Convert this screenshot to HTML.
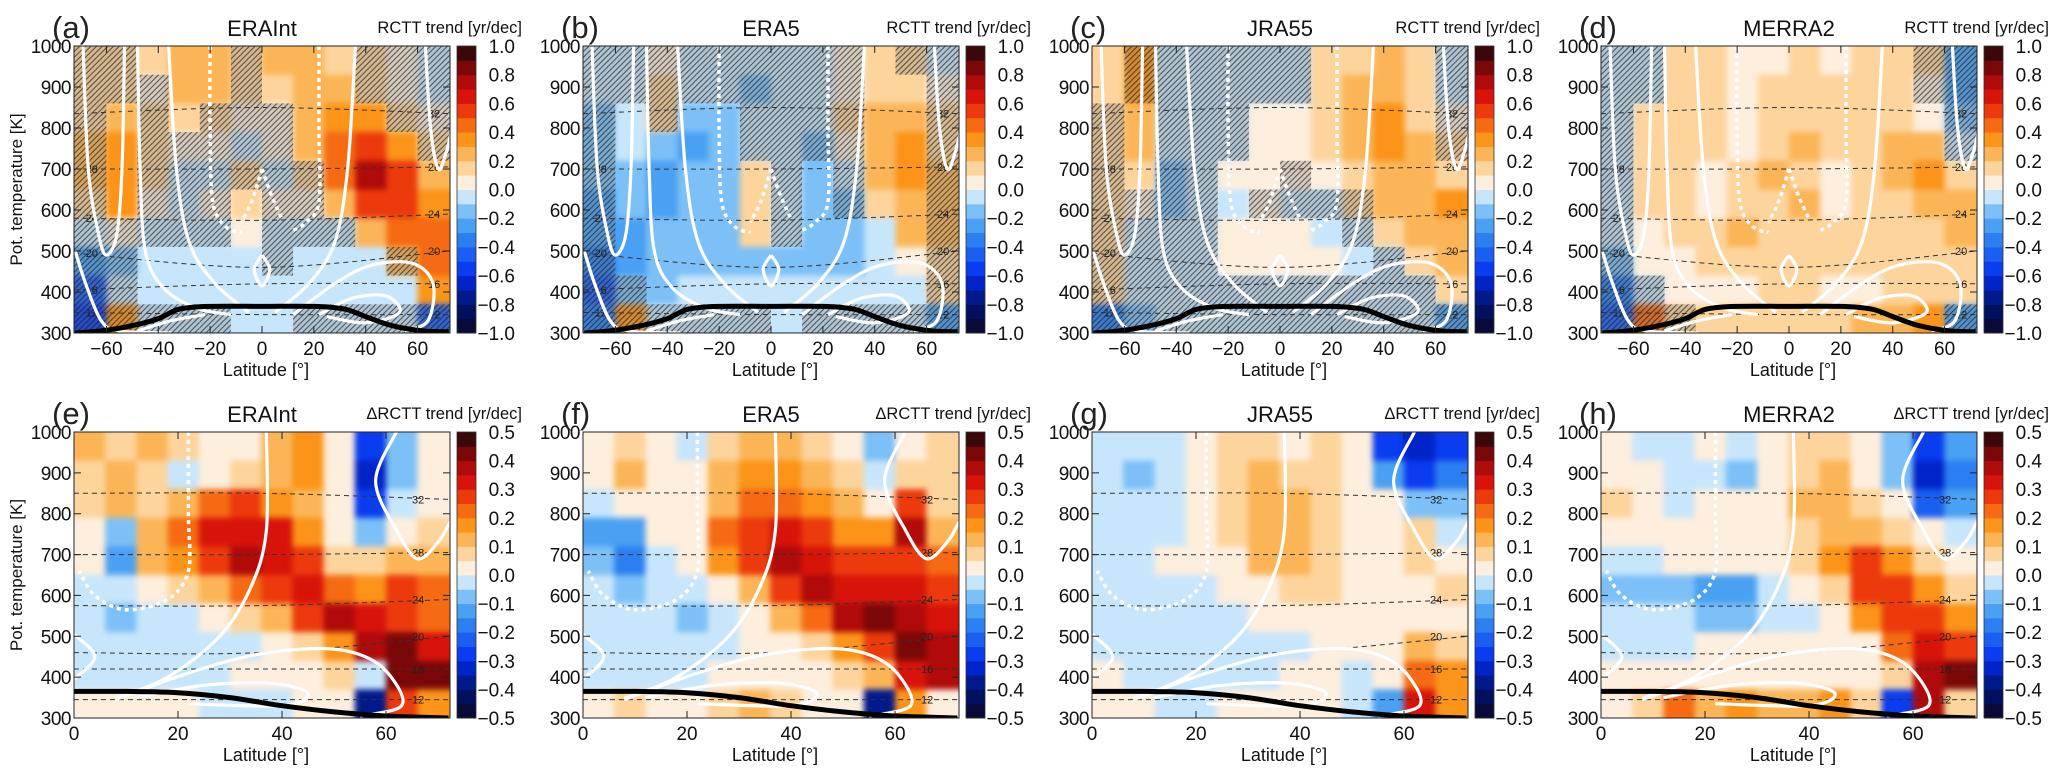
<!DOCTYPE html>
<html><head><meta charset="utf-8"><title>RCTT trends</title>
<style>
html,body{margin:0;padding:0;background:#fff;}
svg{display:block;font-family:"Liberation Sans",sans-serif;}
.soft{filter:blur(3px);}
</style></head>
<body>
<svg id="fig" width="2067" height="777" viewBox="0 0 2067 777" xmlns="http://www.w3.org/2000/svg">
<defs>
<pattern id="hatch" patternUnits="userSpaceOnUse" width="4" height="4" patternTransform="rotate(-45)">
<rect width="4" height="4" fill="rgba(110,110,110,0.28)"/>
<line x1="0" y1="1" x2="4" y2="1" stroke="#1a1a1a" stroke-width="1.1" stroke-opacity="0.65"/>
</pattern>
</defs>
</svg>
<script>
// ---------- data ----------
const panelLabels = ["(a)","(b)","(c)","(d)","(e)","(f)","(g)","(h)"];
const panelTitles = ["ERAInt","ERA5","JRA55","MERRA2","ERAInt","ERA5","JRA55","MERRA2"];
const latCentersTop = [-66,-54,-42,-30,-18,-6,6,18,30,42,54,66];
const latCentersBot = [3,9,15,21,27,33,39,45,51,57,63,69];
const thetaCenters = [965,895,825,755,685,615,545,475,405,335];   // rows top -> bottom
const yTicks = [300,400,500,600,700,800,900,1000];
const xTicksTop = [-60,-40,-20,0,20,40,60];
const xTicksBot = [0,20,40,60];
const cbTicksTop = ["1.0","0.8","0.6","0.4","0.2","0.0","\u22120.2","\u22120.4","\u22120.6","\u22120.8","\u22121.0"];
const cbTicksBot = ["0.5","0.4","0.3","0.2","0.1","0.0","\u22120.1","\u22120.2","\u22120.3","\u22120.4","\u22120.5"];
const cmapColors = ["#0a0a3a","#00105e","#001a8c","#0024c8","#0a3cf0","#1a5ef2","#2b7ff0","#4aa0f2","#7cc0f7","#c8e6fb",
 "#fdeedd","#fdd49c","#fbb557","#fb9418","#f56a12","#ec3a0c","#d8140a","#b00a0a","#7a0808","#3a0808"];

const trendA = [
[0.15,0.15,0.1,0.2,0.2,0.1,0.2,0.2,0.15,0.1,0.0,-0.1],
[0.15,0.1,0.05,0.2,0.2,0.1,0.15,0.2,0.2,0.1,0.05,-0.1],
[0.15,0.25,0.1,0.15,0.1,0.05,0.05,0.2,0.35,0.3,0.15,0.05],
[0.2,0.3,0.15,0.05,0.05,-0.05,0.05,0.25,0.45,0.55,0.3,0.15],
[0.2,0.35,0.1,-0.05,-0.05,0.1,-0.05,0.15,0.4,0.7,0.5,0.25],
[0.15,0.3,0.05,-0.1,0.02,0.15,0.05,0.05,0.2,0.5,0.55,0.3],
[-0.05,0.05,-0.05,-0.1,-0.05,0.05,-0.05,-0.05,-0.05,0.2,0.45,0.4],
[-0.3,-0.15,-0.05,-0.05,-0.05,-0.05,-0.05,-0.05,-0.05,-0.05,0.2,0.4],
[-0.5,-0.1,-0.05,-0.05,-0.05,-0.05,-0.05,-0.05,-0.05,-0.05,-0.05,0.3],
[-0.6,0.3,-0.05,-0.05,-0.05,-0.05,-0.05,-0.05,-0.05,-0.05,-0.1,-0.5]];
const trendB = [
[-0.1,-0.1,0.05,-0.05,-0.05,-0.05,-0.05,-0.05,0.05,0.15,0.1,-0.05],
[-0.1,-0.05,0.1,-0.05,-0.05,-0.15,-0.05,-0.05,0.05,0.15,0.15,0.05],
[-0.15,-0.05,0.1,-0.2,-0.2,-0.05,-0.05,-0.1,0.1,0.25,0.2,0.15],
[-0.2,-0.1,-0.2,-0.25,-0.2,-0.05,-0.05,-0.15,0.05,0.25,0.3,0.15],
[-0.2,-0.15,-0.25,-0.2,-0.15,0.15,-0.05,-0.2,-0.05,0.25,0.35,0.2],
[-0.25,-0.2,-0.25,-0.2,-0.15,0.15,-0.1,-0.2,-0.15,0.15,0.25,0.2],
[-0.3,-0.3,-0.2,-0.15,-0.15,0.1,-0.1,-0.15,-0.2,-0.05,0.2,0.2],
[-0.35,-0.3,-0.15,-0.15,-0.15,-0.15,-0.15,-0.15,-0.15,-0.1,0.05,0.15],
[-0.5,-0.2,-0.15,-0.05,-0.05,-0.05,-0.05,-0.05,-0.05,-0.1,-0.05,0.1],
[-0.4,0.3,-0.05,-0.1,-0.05,-0.05,-0.05,-0.05,-0.05,-0.1,-0.1,-0.3]];
const trendC = [
[0.15,0.3,-0.05,-0.05,-0.05,-0.05,-0.05,0.15,0.15,0.25,0.15,-0.1],
[0.15,0.3,-0.05,-0.05,-0.05,-0.05,-0.05,0.15,0.2,0.25,0.15,-0.1],
[0.15,0.2,-0.05,-0.05,-0.05,0.05,0.05,0.15,0.2,0.3,0.15,0.05],
[0.15,0.2,-0.05,-0.05,-0.05,0.05,0.05,0.15,0.2,0.3,0.2,0.1],
[0.1,0.15,-0.15,-0.05,0.05,0.05,0.05,0.05,0.15,0.25,0.25,0.15],
[0.1,0.05,-0.2,-0.05,-0.05,0.05,-0.05,-0.05,0.1,0.2,0.25,0.3],
[0.15,-0.05,-0.1,-0.05,0.05,0.05,0.05,-0.05,-0.05,0.1,0.2,0.25],
[0.15,-0.05,-0.1,-0.05,0.05,0.05,0.05,0.05,-0.05,-0.05,0.1,0.2],
[0.1,-0.1,-0.05,-0.05,-0.05,-0.05,-0.05,-0.05,-0.1,-0.1,-0.05,0.1],
[-0.4,-0.15,-0.05,-0.05,-0.05,-0.05,-0.05,-0.05,-0.05,-0.05,-0.05,-0.3]];
const trendD = [
[-0.05,-0.05,0.15,0.15,0.05,0.05,0.1,0.05,0.15,0.15,0.1,-0.3],
[-0.05,-0.05,0.15,0.15,0.05,0.1,0.1,0.1,0.15,0.15,0.05,-0.3],
[-0.05,0.1,0.15,0.15,0.05,0.15,0.15,0.15,0.15,0.15,0.05,-0.2],
[-0.05,0.1,0.15,0.15,0.05,0.15,0.2,0.15,0.15,0.25,0.2,-0.05],
[-0.05,0.1,0.15,0.05,0.15,0.2,0.15,0.05,0.15,0.25,0.3,0.15],
[-0.05,0.1,0.1,0.05,0.15,0.15,0.25,0.05,0.15,0.15,0.2,0.2],
[-0.1,0.05,0.1,0.15,0.2,0.15,0.15,0.15,0.15,0.15,0.15,0.2],
[-0.2,0.05,0.05,0.15,0.15,0.15,0.15,0.15,0.15,0.15,0.15,0.15],
[-0.4,-0.1,0.05,0.05,0.05,0.1,0.1,0.05,0.05,0.15,0.15,0.15],
[-0.5,0.4,0.15,0.1,0.15,0.15,0.15,0.15,0.2,0.2,0.3,-0.3]];
const hatchA = ["110001000111","111001000111","101011100011","101111100001","101111110000","101110110000","111110111000","110000100010","110000000000","111110011111"];
const hatchB = ["111111111011","111111111001","101001111001","100001111001","100000101001","100000101001","100000100001","100000000001","110000000001","111111011111"];
const hatchC = ["011111100001","011111100001","101110000001","101110000001","101100100000","111101111000","111100001000","111100000100","111111111110","111111111111"];
const hatchD = ["110000000011","110000000011","100000000001","100000000001","100000000000","100000000000","100000000000","100000000000","110000000000","111000000001"];

const deltaE = [
[0.15,0.1,0.15,0.1,0.05,0.05,0.15,0.2,0.05,-0.3,-0.1,0.05],
[0.1,0.15,0.1,-0.05,0.05,0.1,0.15,0.2,0.05,-0.35,-0.1,0.05],
[0.1,0.15,0.1,0.15,0.25,0.3,0.2,0.15,0.05,-0.3,-0.05,0.05],
[0.05,-0.1,0.15,0.25,0.35,0.35,0.35,0.2,0.05,-0.1,0.0,0.1],
[0.05,-0.15,0.15,0.2,0.3,0.4,0.35,0.3,0.1,0.1,0.15,0.15],
[-0.05,-0.05,0.05,0.1,0.15,0.25,0.3,0.35,0.25,0.2,0.3,0.25],
[-0.05,-0.1,-0.05,-0.05,0.05,0.1,0.15,0.3,0.4,0.35,0.3,0.25],
[-0.05,-0.05,-0.05,-0.05,-0.05,-0.05,0.05,0.1,0.2,0.4,0.45,0.35],
[-0.05,-0.05,-0.05,-0.05,-0.05,0.05,0.05,0.05,0.1,-0.05,0.45,0.45],
[0.05,0.05,0.05,0.05,-0.05,-0.05,-0.05,0.05,0.05,-0.4,0.3,0.2]];
const deltaF = [
[0.05,0.1,0.05,-0.05,0.1,0.15,0.15,0.1,0.05,-0.1,0.05,0.1],
[0.05,0.15,0.05,0.05,0.15,0.2,0.2,0.15,0.1,-0.05,0.1,0.1],
[-0.05,0.05,0.05,0.05,0.15,0.25,0.25,0.2,0.15,0.05,0.3,0.1],
[-0.15,-0.15,0.0,0.05,0.25,0.3,0.35,0.3,0.2,0.2,0.4,0.15],
[-0.1,-0.2,-0.05,0.05,0.2,0.3,0.4,0.35,0.3,0.3,0.3,0.25],
[-0.05,-0.1,-0.05,-0.05,0.05,0.15,0.3,0.4,0.35,0.35,0.35,0.3],
[-0.05,-0.05,-0.05,-0.1,-0.05,0.05,0.15,0.25,0.4,0.45,0.4,0.35],
[-0.05,-0.05,-0.05,-0.05,-0.05,0.05,0.05,0.1,0.2,0.3,0.45,0.4],
[-0.05,-0.05,-0.05,-0.05,0.05,0.05,0.05,0.05,0.1,0.15,0.35,0.4],
[0.05,0.1,0.05,0.05,0.1,0.15,0.1,0.05,0.05,-0.4,0.2,0.05]];
const deltaG = [
[-0.05,-0.05,-0.05,0.05,0.1,0.1,0.05,0.1,0.05,-0.3,-0.35,-0.3],
[-0.05,-0.1,-0.05,0.05,0.1,0.15,0.1,0.1,0.05,-0.15,-0.3,-0.2],
[-0.05,-0.05,-0.05,0.05,0.1,0.15,0.15,0.1,0.05,0.0,-0.1,-0.1],
[-0.05,-0.05,-0.05,0.05,0.1,0.15,0.15,0.1,0.05,0.05,0.1,-0.05],
[-0.05,-0.05,0.05,0.05,0.05,0.15,0.15,0.1,0.05,0.0,0.1,0.05],
[-0.05,-0.05,-0.05,-0.05,0.05,0.05,0.1,0.1,0.05,0.05,0.05,0.1],
[-0.05,-0.05,-0.05,-0.05,-0.05,0.05,0.05,0.05,0.05,0.05,0.05,0.05],
[-0.05,-0.05,-0.05,-0.05,-0.05,-0.05,-0.05,0.05,0.05,0.05,0.15,0.1],
[0.05,-0.05,-0.05,-0.05,-0.05,-0.05,0.05,0.05,-0.05,0.05,0.25,0.2],
[0.05,0.05,-0.05,-0.05,0.05,0.05,0.05,0.05,-0.05,-0.15,0.35,0.2]];
const deltaH = [
[0.05,-0.05,-0.05,0.05,-0.05,0.05,0.1,0.1,0.05,-0.1,-0.3,-0.15],
[0.05,0.05,-0.05,-0.05,-0.1,0.05,0.1,0.15,0.05,-0.1,-0.35,-0.2],
[0.1,0.05,-0.05,0.05,0.05,0.05,0.15,0.15,0.1,0.05,-0.25,-0.15],
[0.05,0.05,0.05,0.05,0.05,0.05,0.1,0.15,0.15,0.1,0.0,-0.05],
[-0.05,-0.05,0.05,0.05,0.05,0.05,0.1,0.2,0.3,0.2,0.1,0.05],
[-0.1,-0.1,-0.1,-0.15,-0.15,-0.05,0.05,0.1,0.3,0.3,0.2,0.1],
[-0.05,-0.05,-0.05,-0.1,-0.1,-0.05,-0.05,0.05,0.2,0.3,0.3,0.2],
[-0.05,-0.05,-0.05,0.05,0.05,0.05,0.05,0.05,0.05,0.25,0.35,0.3],
[0.05,0.05,0.05,0.05,0.05,0.05,0.05,0.05,0.05,0.1,0.4,0.45],
[0.05,0.1,0.25,0.15,0.2,0.15,0.15,0.2,0.1,-0.3,0.4,0.1]];

// tropopause (thick black) & isentrope-altitude (dashed) lines in lat/theta
const tropTopLat = [-72,-62,-50,-40,-32,-20,0,20,32,40,50,62,72];
const tropTopTh  = [300,305,318,335,358,365,365,365,358,340,318,305,303];
const tropBotLat = [0,10,20,30,40,50,60,72];
const tropBotTh  = [365,365,362,350,330,315,305,300];
const altLabels = ["12","16","20","24","28","32"];
const altThLeft  = [350,405,495,580,700,835];
const altThMid   = [345,420,460,575,700,850];
const altThRight = [345,420,500,590,705,835];

const svg = document.getElementById('fig');
const NS = "http://www.w3.org/2000/svg";
function el(tag, parent){ const e=document.createElementNS(NS,tag); parent.appendChild(e); return e; }
function attrs(e,o){ for(const k in o) e.setAttribute(k,o[k]); return e; }

const PW = 376, PERIOD = 509, LEFT0 = 74;
const rows = [{top:46,bot:333},{top:432,bot:718}];
const topData = [trendA,trendB,trendC,trendD];
const topHatch = [hatchA,hatchB,hatchC,hatchD];
const botData = [deltaE,deltaF,deltaG,deltaH];

function polyPath(pts){ return pts.map((p,i)=>(i?'L':'M')+p[0].toFixed(1)+','+p[1].toFixed(1)).join(''); }
function smoothPath(pts){
  if(pts.length<3) return polyPath(pts);
  let d='M'+pts[0][0].toFixed(1)+','+pts[0][1].toFixed(1);
  for(let i=0;i<pts.length-1;i++){
    const p0=pts[i-1]||pts[i], p1=pts[i], p2=pts[i+1], p3=pts[i+2]||p2;
    const c1=[p1[0]+(p2[0]-p0[0])/6, p1[1]+(p2[1]-p0[1])/6];
    const c2=[p2[0]-(p3[0]-p1[0])/6, p2[1]-(p3[1]-p1[1])/6];
    d+='C'+c1.map(v=>v.toFixed(1)).join(',')+' '+c2.map(v=>v.toFixed(1)).join(',')+' '+p2[0].toFixed(1)+','+p2[1].toFixed(1);
  }
  return d;
}

// white streamfunction-like contours (lat, theta)
const whiteTop = [
 [[-69,1000],[-67,700],[-63,540],[-60,490],[-56,540],[-54,700],[-53,1000]],
 [[-48,1000],[-47,700],[-45,500],[-38,410],[-25,360],[-12,345]],
 [[-36,1000],[-33,700],[-28,520],[-18,420],[-5,350]],
 [[36,1000],[33,700],[28,520],[18,420],[5,350]],
 [[-72,500],[-68,420],[-62,330],[-55,305],[-35,300]],
 [[12,345],[28,420],[42,465],[58,470],[66,420],[64,330],[55,305]],
 [[22,345],[35,385],[48,390],[53,350],[40,325],[25,340]],
 [[-22,345],[-35,330],[-48,305]],
 [[0,490],[-3,455],[0,415],[3,455],[0,490]],
 [[63,1000],[65,800],[68,700],[71,740],[73,790]]
];
const whiteDotTop = [
 [[-20,1000],[-20,800],[-19,620],[-14,560],[-8,545]],
 [[22,1000],[22,800],[22,620],[17,570],[12,550]],
 [[0,700],[-4,620],[-8,570]],
 [[0,700],[4,630],[8,575]]
];
const whiteBot = [
 [[37,1000],[37,760],[34,620],[28,500],[18,400],[8,348]],
 [[62,1000],[58,880],[62,760],[66,690],[70,730],[72.3,780]],
 [[8,345],[22,410],[35,455],[48,470],[56,450],[61,400],[63,330],[55,305]],
 [[12,350],[25,380],[38,385],[45,360],[40,330],[22,335]],
 [[0,505],[4,450],[0,395]]
];
const whiteDotBot = [
 [[22,1000],[22,800],[22,660],[18,590],[10,565],[4,600],[1,660]]
];

// ----------- build panels -----------
for(let p=0;p<8;p++){
  const isTop = p<4, col = p%4;
  const L = LEFT0 + col*PERIOD, R = L+PW;
  const T = rows[isTop?0:1].top, B = rows[isTop?0:1].bot;
  const lat0 = isTop?-72.5:0, lat1 = isTop?72.5:72.3;
  const vmax = isTop?1.0:0.5;
  const xs = lat => L + (lat-lat0)/(lat1-lat0)*PW;
  const ys = th => B - (th-300)/700*(B-T);
  const colorOf = v => {
    const x=(v+vmax)/(2*vmax)*20;
    let i = (!isTop && v>0) ? Math.ceil(x-1e-6)-1 : Math.floor(x+1e-6);
    i=Math.max(0,Math.min(19,i)); return cmapColors[i]; };

  const g = el('g',svg);
  
  

  const cpId='clip'+p;
  const cp = attrs(el('clipPath',g),{id:cpId});
  attrs(el('rect',cp),{x:L,y:T,width:PW,height:B-T});

  const field = attrs(el('g',g),{'clip-path':'url(#'+cpId+')'});
  
  
  const cells = attrs(el('g',field),{'class':'soft'});
  const data = isTop?topData[col]:botData[col];
  const lats = isTop?latCentersTop:latCentersBot;
  const halfLat = isTop?6:3;
  for(let r=0;r<thetaCenters.length;r++){
    for(let c=0;c<lats.length;c++){
      let la=lats[c]-halfLat, lb=lats[c]+halfLat;
      if(c===0) la-=6; if(c===lats.length-1) lb+=6;
      let tb=thetaCenters[r]-35, tt=thetaCenters[r]+35;
      if(r===0) tt+=30; if(r===thetaCenters.length-1) tb-=30;
      const rc = el('rect',cells);
      
      
      attrs(rc,{x:xs(la).toFixed(1),y:ys(tt).toFixed(1),width:(xs(lb)-xs(la)+0.6).toFixed(1),height:(ys(tb)-ys(tt)+0.6).toFixed(1),fill:colorOf(data[r][c])});
    }
  }
  if(isTop){
    const hm = topHatch[col];
    for(let r=0;r<hm.length;r++) for(let c=0;c<hm[r].length;c++){
      if(hm[r][c]!=='1') continue;
      let la=lats[c]-halfLat, lb=lats[c]+halfLat;
      if(c===0) la-=6; if(c===lats.length-1) lb+=6;
      let tb=thetaCenters[r]-35, tt=thetaCenters[r]+35;
      if(r===0) tt+=30; if(r===thetaCenters.length-1) tb-=30;
      const hr = el('rect',field);
      
      
      attrs(hr,{x:xs(la).toFixed(1),y:ys(tt).toFixed(1),width:(xs(lb)-xs(la)).toFixed(1),height:(ys(tb)-ys(tt)).toFixed(1),fill:'url(#hatch)'});
    }
  }
  // dashed altitude lines
  const latL = isTop?-72.5:0, latM = isTop?0:36, latR = lat1;
  for(let i=0;i<altLabels.length;i++){
    const dl = el('path',field);
    
    
    const thL = isTop?altThLeft[i]:altThMid[i];
    attrs(dl,{d:smoothPath([[xs(latL),ys(thL)],[xs(latM),ys(altThMid[i])],[xs(latR),ys(altThRight[i])]]),fill:'none',stroke:'#333','stroke-width':1,'stroke-dasharray':'5,4'});
    const tl = el('text',field);
    
    
    attrs(tl,{x:xs(isTop?64:65).toFixed(1),y:(ys(altThRight[i])+4).toFixed(1),'font-size':11,fill:'#222'});
    tl.textContent=altLabels[i];
    if(isTop && i<5){
      const tl2 = el('text',field);
      
      
      attrs(tl2,{x:xs(-68).toFixed(1),y:(ys(altThLeft[i])+4).toFixed(1),'font-size':11,fill:'#222'});
      tl2.textContent=altLabels[i];
    }
  }
  // white contours
  const wl = isTop?whiteTop:whiteBot, wd = isTop?whiteDotTop:whiteDotBot;
  wl.forEach(line=>{
    const w = el('path',field);
    
    
    attrs(w,{d:smoothPath(line.map(q=>[xs(q[0]),ys(q[1])])),fill:'none',stroke:'#fff','stroke-width':3.2});
  });
  wd.forEach(line=>{
    const w = el('path',field);
    
    
    attrs(w,{d:smoothPath(line.map(q=>[xs(q[0]),ys(q[1])])),fill:'none',stroke:'#fff','stroke-width':3.5,'stroke-dasharray':'4,4'});
  });
  // tropopause
  const tLat = isTop?tropTopLat:tropBotLat, tTh = isTop?tropTopTh:tropBotTh;
  const tp = el('path',field);
  
  
  attrs(tp,{d:smoothPath(tLat.map((la,i)=>[xs(la),ys(tTh[i])])),fill:'none',stroke:'#000','stroke-width':5});

  // frame
  const fr = el('rect',g);
  
  
  attrs(fr,{x:L,y:T,width:PW,height:B-T,fill:'none',stroke:'#222','stroke-width':1});

  // y ticks
  yTicks.forEach(t=>{
    const y=ys(t);
    const tk=el('path',g);
    
    
    attrs(tk,{d:`M${L},${y}h7M${R},${y}h-7`,stroke:'#222','stroke-width':1});
    const tx=el('text',g);
    
    
    attrs(tx,{x:L-3,y:y+7,'font-size':19,'text-anchor':'end',fill:'#111','letter-spacing':'-0.5'});
    tx.textContent=t;
  });
  // x ticks
  (isTop?xTicksTop:xTicksBot).forEach(t=>{
    const x=xs(t);
    const tk=el('path',g);
    
    
    attrs(tk,{d:`M${x},${B}v-7M${x},${T}v7`,stroke:'#222','stroke-width':1});
    const tx=el('text',g);
    
    
    attrs(tx,{x:x,y:B+22,'font-size':19,'text-anchor':'middle',fill:'#111'});
    tx.textContent = t<0 ? '\u2212'+Math.abs(t) : t;
  });
  const xl=el('text',g);
  
  
  attrs(xl,{x:L+PW/2+4,y:B+43,'font-size':18,'text-anchor':'middle',fill:'#111'});
  xl.textContent='Latitude [\u00B0]';
  if(col===0){
    const yl=el('text',g);
    
    
    attrs(yl,{x:0,y:0,'font-size':17,'text-anchor':'middle',fill:'#111',transform:`translate(${L-52},${(T+B)/2}) rotate(-90)`});
    yl.textContent='Pot. temperature [K]';
  }
  // titles
  const pl=el('text',g);
  
  
  attrs(pl,{x:L-22,y:T-8,'font-size':31,fill:'#222'});
  pl.textContent=panelLabels[p];
  const ti=el('text',g);
  
  
  attrs(ti,{x:L+PW/2,y:T-10,'font-size':22,'text-anchor':'middle',fill:'#111'});
  ti.textContent=panelTitles[p];
  const ct=el('text',g);
  
  
  attrs(ct,{x:L+448,y:T-13,'font-size':16.5,'text-anchor':'end',fill:'#111'});
  ct.textContent=(isTop?'':'\u0394')+'RCTT trend [yr/dec]';

  // colorbar
  const cbL=L+383, cbW=19, cbH=B-T;
  const cb=el('g',g);
  
  
  for(let i=0;i<20;i++){
    const r=el('rect',cb);
    
    
    attrs(r,{x:cbL,y:(B-(i+1)*cbH/20).toFixed(2),width:cbW,height:(cbH/20+0.5).toFixed(2),fill:cmapColors[i]});
  }
  const cbf=el('rect',cb);
  attrs(cbf,{x:cbL,y:T,width:cbW,height:cbH,fill:'none',stroke:'#333','stroke-width':0.8});
  
  
  const labs=isTop?cbTicksTop:cbTicksBot;
  labs.forEach((s,i)=>{
    const tx=el('text',cb);
    
    
    attrs(tx,{x:L+441,y:(T+i*cbH/10+7).toFixed(1),'font-size':19,'text-anchor':'end',fill:'#111'});
    tx.textContent=s;
  });
}
</script>
</body></html>
